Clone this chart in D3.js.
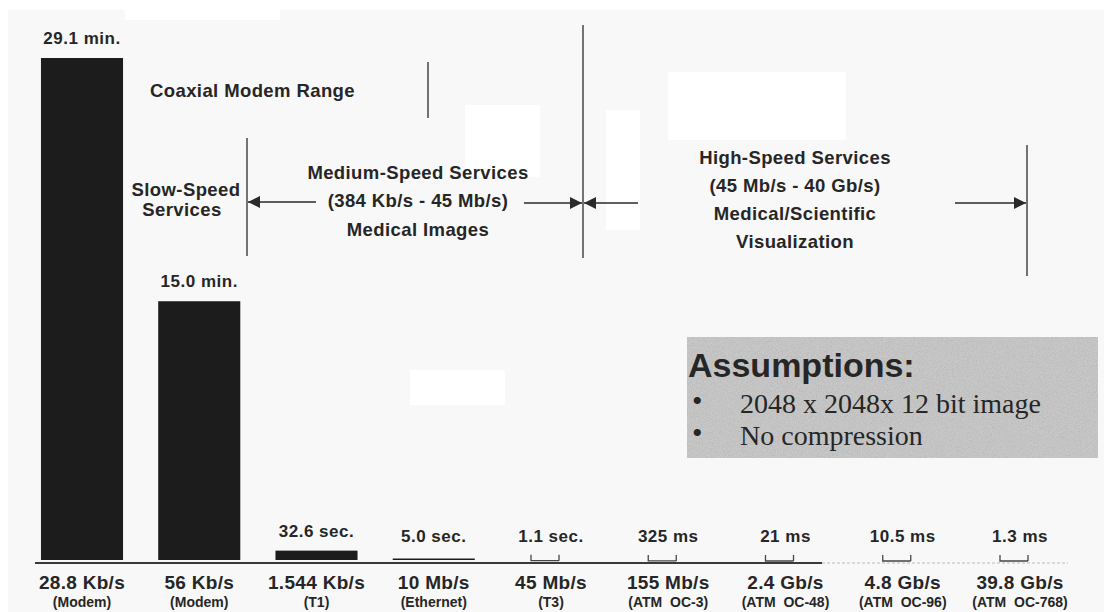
<!DOCTYPE html>
<html>
<head>
<meta charset="utf-8">
<script src="https://cdn.jsdelivr.net/npm/d3@7"></script>
<style>
  body { margin: 0; background: #fff; }
  svg text { font-family: "Liberation Sans", Arial, sans-serif; font-weight: bold; fill: #262626; white-space: pre; }
  .serif { font-family: "Liberation Serif", "Times New Roman", serif; font-weight: normal; }
</style>
</head>
<body>
<div id="chart"></div>
<script>
// transfer time for one 2048 x 2048 x 12 bit image at each link speed
const categories = ["28.8 Kb/s", "56 Kb/s", "1.544 Kb/s", "10 Mb/s", "45 Mb/s", "155 Mb/s", "2.4 Gb/s", "4.8 Gb/s", "39.8 Gb/s"];
const linkTypes = ["(Modem)", "(Modem)", "(T1)", "(Ethernet)", "(T3)", "(ATM  OC-3)", "(ATM  OC-48)", "(ATM  OC-96)", "(ATM  OC-768)"];
const seconds = [1746, 900, 32.6, 5.0, 1.1, 0.325, 0.021, 0.0105, 0.0013];
const timeLabels = ["29.1 min.", "15.0 min.", "32.6 sec.", "5.0 sec.", "1.1 sec.", "325 ms", "21 ms", "10.5 ms", "1.3 ms"];

const width = 1104, height = 612;
const base = 560;

const data = categories.map((c, i) => ({ cat: c, type: linkTypes[i], value: seconds[i], label: timeLabels[i] }));

const svg = d3.select("#chart").append("svg")
    .attr("width", width)
    .attr("height", height);

// scanned page background
svg.append("rect").attr("x", 8).attr("y", 10).attr("width", width - 8).attr("height", height - 10).attr("fill", "#f8f8f8");
[[125, 0, 155, 20], [465, 105, 75, 72], [668, 72, 178, 68], [606, 110, 34, 120], [410, 370, 95, 35]].forEach(p => {
    svg.append("rect").attr("x", p[0]).attr("y", p[1]).attr("width", p[2]).attr("height", p[3]).attr("fill", "#fff");
});

const defs = svg.append("defs");
const grain = defs.append("filter").attr("id", "grain").attr("x", 0).attr("y", 0).attr("width", 1).attr("height", 1);
grain.append("feTurbulence").attr("type", "fractalNoise").attr("baseFrequency", 1.2).attr("numOctaves", 1).attr("result", "n");
grain.append("feColorMatrix").attr("in", "n").attr("type", "matrix")
    .attr("values", "0 0 0 0 0.35  0 0 0 0 0.35  0 0 0 0 0.35  0.6 0.6 0.6 0 -0.75").attr("result", "g");
grain.append("feComposite").attr("in", "g").attr("in2", "SourceGraphic").attr("operator", "atop");

defs.append("marker").attr("id", "arrow")
    .attr("viewBox", "0 0 10 10").attr("refX", 10).attr("refY", 5)
    .attr("markerWidth", 14).attr("markerHeight", 12).attr("markerUnits", "userSpaceOnUse")
    .attr("orient", "auto")
    .append("path").attr("d", "M0,0 L10,5 L0,10 Z").attr("fill", "#2a2a2a");

const x = d3.scalePoint(categories, [82, 1020]);
const barW = x.step() * 0.7;
const y = d3.scaleLinear([0, 1746], [base, 58]);

// axis line: solid under the first part, faint where the scan faded
svg.append("line").attr("x1", 35).attr("x2", 822).attr("y1", base + 3).attr("y2", base + 3)
    .attr("stroke", "#3a3a3a").attr("stroke-width", 2);
svg.append("line").attr("x1", 822).attr("x2", 1068).attr("y1", base + 3).attr("y2", base + 3)
    .attr("stroke", "#d0d0d0").attr("stroke-width", 1.5).attr("stroke-dasharray", "3,2");

svg.append("g").selectAll("rect")
    .data(data.filter(d => base - y(d.value) >= 1))
    .join("rect")
    .attr("x", d => x(d.cat) - barW / 2)
    .attr("y", d => Math.min(y(d.value), base - 1.5))
    .attr("width", barW)
    .attr("height", d => Math.max(base - y(d.value), 1.5))
    .attr("fill", "#1c1c1c");

// bars too thin to see: small bracket marks
svg.append("g").selectAll("path")
    .data(data.filter(d => base - y(d.value) < 1))
    .join("path")
    .attr("d", d => {
        const cx = x(d.cat) - 6, b = y(d.value) + 1;
        return `M${cx - 14},${b - 6} L${cx - 14},${b} L${cx + 14},${b} M${cx + 14},${b - 6} L${cx + 14},${b}`;
    })
    .attr("fill", "none")
    .attr("stroke", "#444")
    .attr("stroke-width", 1.3);

svg.append("g").selectAll("text")
    .data(data)
    .join("text")
    .attr("x", d => x(d.cat))
    .attr("y", d => Math.min(y(d.value) - 14, base - 18))
    .attr("text-anchor", "middle")
    .style("font-size", "17px")
    .style("letter-spacing", "0.5px")
    .text(d => d.label);

const xl = svg.append("g");
xl.selectAll(".cat")
    .data(data)
    .join("text")
    .attr("class", "cat")
    .attr("x", d => x(d.cat))
    .attr("y", 589)
    .attr("text-anchor", "middle")
    .style("font-size", "19px")
    .style("letter-spacing", "0.3px")
    .text(d => d.cat);
xl.selectAll(".typ")
    .data(data)
    .join("text")
    .attr("class", "typ")
    .attr("x", d => x(d.cat))
    .attr("y", 607)
    .attr("text-anchor", "middle")
    .style("font-size", "14px")
    .text(d => d.type);

// service range annotations
const ann = svg.append("g");
const vline = (xx, y1, y2) => ann.append("line").attr("x1", xx).attr("x2", xx).attr("y1", y1).attr("y2", y2)
    .attr("stroke", "#2a2a2a").attr("stroke-width", 1.3);
const arrow = (x1, x2, yy) => ann.append("line").attr("x1", x1).attr("x2", x2).attr("y1", yy).attr("y2", yy)
    .attr("stroke", "#2a2a2a").attr("stroke-width", 1.5).attr("marker-end", "url(#arrow)");
const label = (txt, xx, yy, anchor) => ann.append("text").attr("x", xx).attr("y", yy)
    .attr("text-anchor", anchor || "middle").style("font-size", "18.5px").style("letter-spacing", "0.4px").text(txt);

label("Coaxial Modem Range", 150, 97, "start");
vline(428, 62, 118);
vline(583, 25, 258);
vline(247, 138, 256);
vline(1027, 145, 276);

label("Slow-Speed", 186, 196);
label("Services", 182, 216);
arrow(316, 248, 202);

label("Medium-Speed Services", 418, 179);
label("(384 Kb/s - 45 Mb/s)", 418, 207);
label("Medical Images", 418, 236);
arrow(524, 582, 203);
arrow(638, 584, 203);

label("High-Speed Services", 795, 164);
label("(45 Mb/s - 40 Gb/s)", 795, 192);
label("Medical/Scientific", 795, 220);
label("Visualization", 795, 248);
arrow(955, 1026, 203);

// assumptions box
const box = svg.append("g");
box.append("rect").attr("x", 687).attr("y", 337).attr("width", 411).attr("height", 121)
    .attr("fill", "#c9c9c9").attr("filter", "url(#grain)");
box.append("text").attr("x", 688).attr("y", 377).style("font-size", "34px").attr("fill", "#1a1a1a").text("Assumptions:");
[["2048 x 2048x 12 bit image", 413], ["No compression", 445]].forEach(r => {
    box.append("text").attr("class", "serif").attr("x", 692).attr("y", r[1] - 2).style("font-size", "30px").text("\u2022");
    box.append("text").attr("class", "serif").attr("x", 740).attr("y", r[1])
        .style("font-size", "28px").text(r[0]);
});
</script>
</body>
</html>
